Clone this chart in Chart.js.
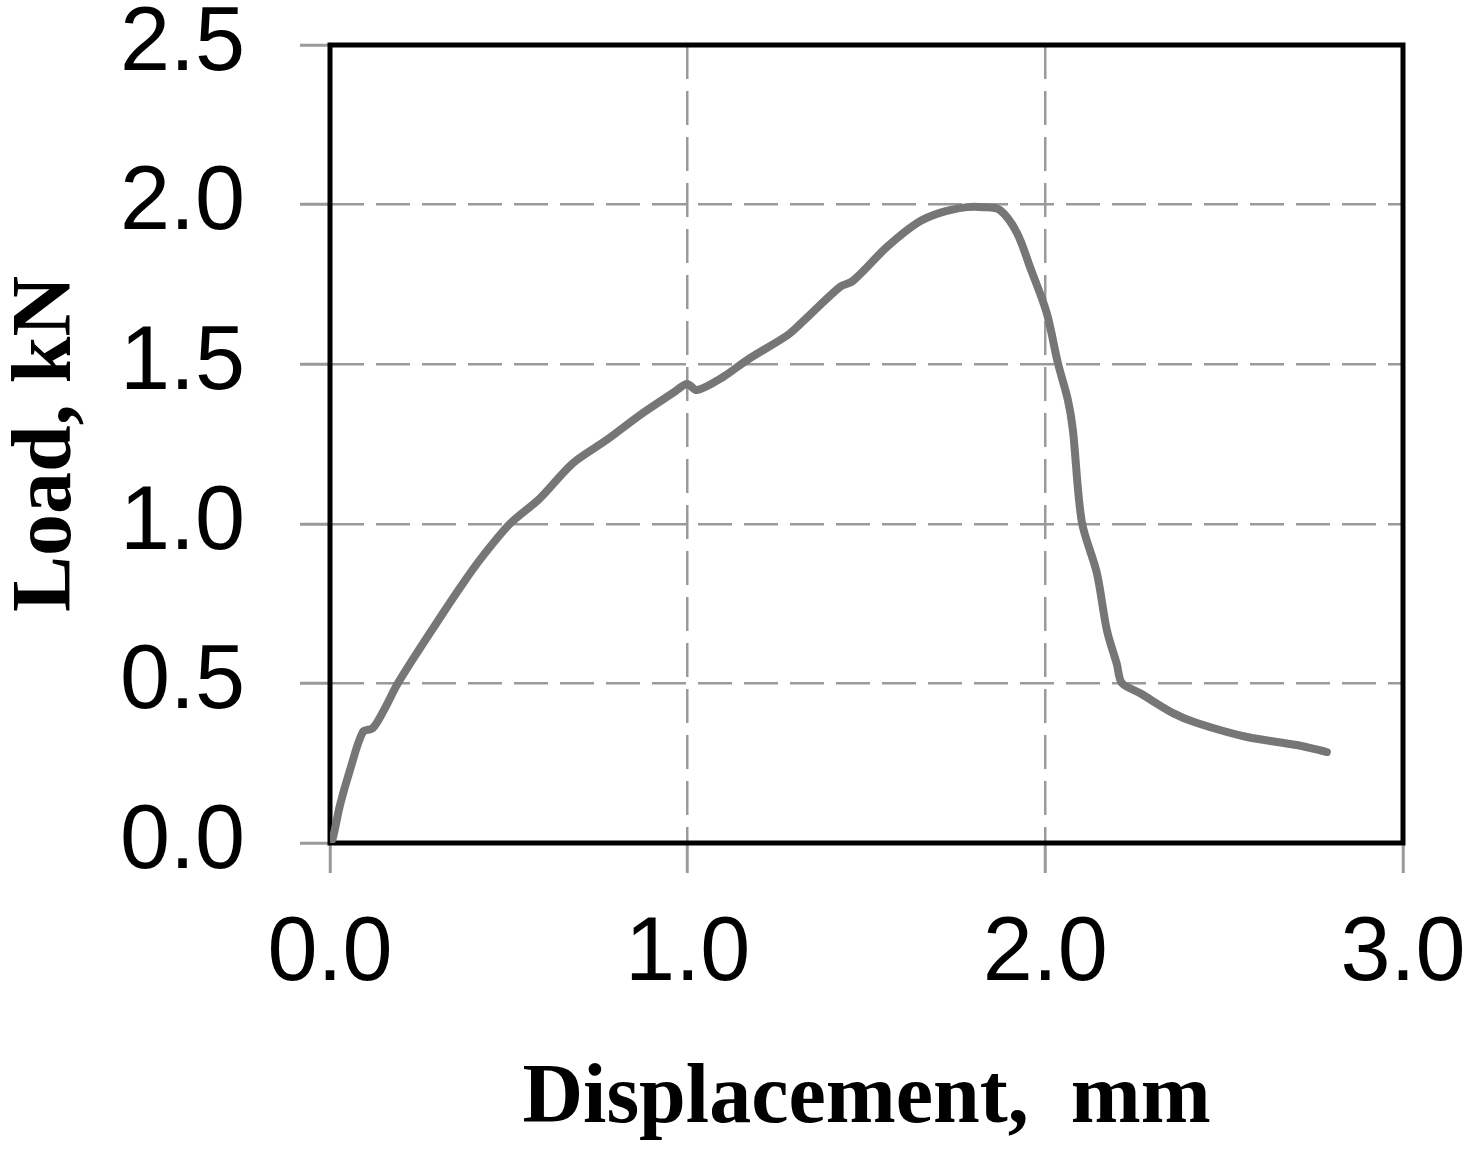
<!DOCTYPE html>
<html>
<head>
<meta charset="utf-8">
<script src="https://cdn.jsdelivr.net/npm/chart.js@4/dist/chart.umd.min.js"></script>
<style>
html,body{margin:0;padding:0;background:#fff;}
canvas{display:block;}
</style>
</head>
<body>
<canvas id="c" width="1480" height="1150"></canvas>
<script>
// Data
const displacement = [0.0, 0.008, 0.028, 0.056, 0.092, 0.12, 0.154, 0.187, 0.252, 0.307, 0.363, 0.419, 0.503, 0.587, 0.679, 0.774, 0.867, 0.959, 0.998, 1.026, 1.099, 1.166, 1.278, 1.314, 1.426, 1.462, 1.557, 1.641, 1.705, 1.781, 1.826, 1.873, 1.921, 1.957, 2.004, 2.035, 2.063, 2.077, 2.102, 2.144, 2.172, 2.2, 2.214, 2.264, 2.357, 2.424, 2.564, 2.703, 2.787];
const load =         [0.0, 0.016, 0.119, 0.229, 0.348, 0.36, 0.423, 0.495, 0.611, 0.705, 0.799, 0.887, 1.0, 1.08, 1.19, 1.263, 1.341, 1.41, 1.438, 1.419, 1.46, 1.513, 1.59, 1.625, 1.742, 1.761, 1.867, 1.942, 1.974, 1.992, 1.992, 1.983, 1.911, 1.805, 1.66, 1.504, 1.388, 1.294, 1.006, 0.846, 0.667, 0.56, 0.501, 0.47, 0.407, 0.376, 0.332, 0.307, 0.285];
const xTicks = [0, 1, 2, 3];
const yTicks = [0, 0.5, 1.0, 1.5, 2.0, 2.5];
const xTitle = 'Displacement,  mm';
const yTitle = 'Load, kN';

const points = displacement.map((x, i) => ({x: x, y: load[i]}));

const frame = {
  id: 'frame',
  beforeDraw(chart) {
    const ctx = chart.ctx;
    ctx.save();
    ctx.fillStyle = '#fff';
    ctx.fillRect(0, 0, chart.width, chart.height);
    ctx.restore();
  },
  beforeDatasetsDraw(chart) {
    const a = chart.chartArea;
    const ctx = chart.ctx;
    ctx.save();
    ctx.strokeStyle = '#000';
    ctx.lineWidth = 5;
    ctx.setLineDash([]);
    ctx.strokeRect(a.left, a.top, a.right - a.left, a.bottom - a.top);
    ctx.restore();
  }
};

const gridColor = '#9a9a9a';

new Chart(document.getElementById('c'), {
  type: 'scatter',
  data: {
    datasets: [{
      data: points,
      showLine: true,
      borderColor: '#767676',
      borderWidth: 8,
      pointRadius: 0,
      tension: 0.3,
      borderCapStyle: 'round',
      borderJoinStyle: 'round',
      fill: false
    }]
  },
  options: {
    responsive: false,
    devicePixelRatio: 1,
    animation: false,
    layout: {padding: {top: 45, right: 77, left: 0, bottom: 0}},
    plugins: {legend: {display: false}, tooltip: {enabled: false}},
    scales: {
      x: {
        type: 'linear',
        min: xTicks[0],
        max: xTicks[xTicks.length - 1],
        afterBuildTicks(s) { s.ticks = xTicks.map(v => ({value: v})); },
        afterFit(s) { s.height = 307; s.paddingLeft = 0; s.paddingRight = 0; },
        ticks: {
          callback: v => Number(v).toFixed(1),
          font: {family: 'Liberation Sans', size: 90},
          color: '#000',
          padding: 28,
          maxRotation: 0,
          autoSkip: false
        },
        grid: {color: gridColor, lineWidth: 2.5, tickLength: 30, tickWidth: 3, tickBorderDash: []},
        border: {display: false, dash: [34, 12]},
        title: {
          display: true,
          text: xTitle,
          font: {family: 'Liberation Serif', size: 84, weight: 'bold', lineHeight: 1},
          color: '#000',
          padding: {top: 0, bottom: 8}
        }
      },
      y: {
        type: 'linear',
        min: yTicks[0],
        max: yTicks[yTicks.length - 1],
        afterBuildTicks(s) { s.ticks = yTicks.map(v => ({value: v})); },
        afterFit(s) { s.width = 330; s.paddingTop = 0; s.paddingBottom = 0; },
        ticks: {
          callback: v => Number(v).toFixed(1),
          font: {family: 'Liberation Sans', size: 90},
          color: '#000',
          padding: 55,
          autoSkip: false
        },
        grid: {color: gridColor, lineWidth: 2.5, tickLength: 30, tickWidth: 3, tickBorderDash: []},
        border: {display: false, dash: [34, 12]},
        title: {
          display: true,
          text: yTitle,
          font: {family: 'Liberation Serif', size: 84, weight: 'bold', lineHeight: 1},
          color: '#000',
          padding: {top: 6, bottom: 0}
        }
      }
    }
  },
  plugins: [frame]
});
</script>
</body>
</html>
